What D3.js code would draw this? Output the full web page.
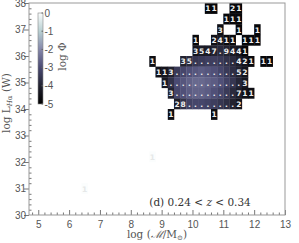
<!DOCTYPE html>
<html>
<head>
<meta charset="utf-8">
<script src="https://cdn.jsdelivr.net/npm/d3@7"></script>
<style>
  body { margin: 0; background: #fff; }
  svg { display: block; }
  .tick text { font-family: "Liberation Sans", Arial, sans-serif; font-size: 10px; fill: #555; }
</style>
</head>
<body>
<div class="chart"></div>
<script>
var svgWidth = 299;
var svgHeight = 243;

var margin = { top: 3, right: 14, bottom: 28, left: 29 };
var width = svgWidth - margin.left - margin.right;
var height = svgHeight - margin.top - margin.bottom;

// column 0 of every row string sits at this mass, one char per 0.2 dex bin
var massStart = 8.7;
var massStep = 0.2;
var lumStep = 0.4;

// luminosity bin centres, top row first
var rowLum = [37.8, 37.4, 37.0, 36.6, 36.2, 35.8, 35.4, 35.0, 34.6, 34.2, 33.8, 32.2];

// galaxy counts per cell ("." = too many to print)
var rowCounts = [
  "         11  21",
  "            111",
  "           3  1  1",
  "       1  2411 111",
  "       3547.9441",
  "1    35.......421 11",
  " 113..........52",
  "  1............3",
  "   3..........711",
  "    28........2",
  "   1      1",
  "1"
];

// log Phi of every filled cell, in the same order as the characters above
var rowLogPhi = [
  [-4.8, -4.8, -4.8, -4.8],
  [-4.8, -4.8, -4.8],
  [-4.6, -4.8, -4.8],
  [-4.8, -4.5, -4.3, -4.7, -4.7, -4.8, -4.8, -4.8],
  [-4.4, -4.2, -4.2, -4.0, -3.8, -4.0, -4.3, -4.4, -4.8],
  [-4.6, -4.0, -3.8, -3.5, -3.4, -3.3, -3.3, -3.4, -3.6, -3.8, -4.1, -4.4, -4.7, -4.8, -4.8],
  [-4.5, -4.4, -4.0, -3.4, -3.1, -2.9, -2.8, -2.7, -2.8, -2.9, -3.1, -3.4, -3.7, -4.0, -4.4],
  [-4.3, -3.6, -3.0, -2.8, -2.6, -2.5, -2.5, -2.6, -2.7, -2.9, -3.2, -3.5, -3.9, -4.3],
  [-4.0, -3.1, -2.9, -2.7, -2.6, -2.6, -2.7, -2.9, -3.1, -3.4, -3.8, -4.1, -4.5, -4.6],
  [-4.1, -3.6, -3.2, -3.1, -3.1, -3.2, -3.3, -3.5, -3.7, -4.0, -4.4],
  [-4.6, -4.6],
  [0.0]
];

// a lone low-mass galaxy
var loneMass = [6.5];
var loneLum = [31.0];
var loneCount = ["1"];
var loneLogPhi = [0.0];

var cbTicks = [0, -1, -2, -3, -4, -5];

// flatten rows into cells
var cells = [];
rowCounts.forEach(function(str, r) {
  var n = 0;
  for (var i = 0; i < str.length; i++) {
    if (str[i] === " ") continue;
    cells.push({ mass: massStart + i * massStep, lum: rowLum[r], label: str[i], phi: rowLogPhi[r][n] });
    n++;
  }
});
loneMass.forEach(function(m, i) {
  cells.push({ mass: m, lum: loneLum[i], label: loneCount[i], phi: loneLogPhi[i] });
});

var svg = d3.select(".chart")
  .append("svg")
  .attr("width", svgWidth)
  .attr("height", svgHeight);

var chartGroup = svg.append("g")
  .attr("transform", `translate(${margin.left}, ${margin.top})`);

var xScale = d3.scaleLinear().domain([4.7, 13]).range([0, width]);
var yScale = d3.scaleLinear().domain([30, 38]).range([height, 0]);

var color = d3.scaleLinear()
  .domain([-5, -4, -3, -2, -1, 0])
  .range(["#000000", "#222230", "#4a4a72", "#8587aa", "#b8d0d2", "#fbfdfd"])
  .clamp(true);

// cells
var cellG = chartGroup.append("g");
cellG.selectAll("rect")
  .data(cells)
  .enter()
  .append("rect")
  .attr("x", d => xScale(d.mass - massStep / 2))
  .attr("y", d => yScale(d.lum + lumStep / 2))
  .attr("width", d => xScale(d.mass + massStep / 2) - xScale(d.mass - massStep / 2) + 0.3)
  .attr("height", d => yScale(d.lum - lumStep / 2) - yScale(d.lum + lumStep / 2) + 0.3)
  .attr("fill", d => color(d.phi));

cellG.selectAll("text")
  .data(cells)
  .enter()
  .append("text")
  .attr("x", d => xScale(d.mass))
  .attr("y", d => yScale(d.lum) + 3)
  .attr("text-anchor", "middle")
  .attr("font-family", "DejaVu Sans, sans-serif")
  .attr("font-weight", "bold")
  .attr("font-size", 7.5)
  .attr("fill", d => d.phi > -1 ? "#e6e8e8" : "#eeeeee")
  .text(d => d.label);

// axes, ticks inside
var xMinor = d3.range(4.8, 13.01, 0.2).map(v => +v.toFixed(1));
var yMinor = d3.range(30, 38.01, 0.2).map(v => +v.toFixed(1));

var bottomAxis = d3.axisBottom(xScale)
  .tickValues(xMinor)
  .tickSize(-2.5)
  .tickFormat(d => Number.isInteger(d) && d >= 5 ? d : "");
var leftAxis = d3.axisLeft(yScale)
  .tickValues(yMinor)
  .tickSize(-2.5)
  .tickFormat(d => Number.isInteger(d) ? d : "");

var xAxis = chartGroup.append("g")
  .attr("transform", `translate(0, ${height})`)
  .call(bottomAxis);
var yAxis = chartGroup.append("g")
  .call(leftAxis);

[xAxis, yAxis].forEach(function(ax) {
  ax.select(".domain").remove();
  ax.selectAll(".tick line").attr("stroke", "#777");
  ax.selectAll(".tick").filter(d => Number.isInteger(d)).select("line")
    .attr(ax === xAxis ? "y2" : "x2", -5);
});
xAxis.selectAll(".tick text").attr("dy", "0.95em").attr("y", 3);
yAxis.selectAll(".tick text").attr("x", -3);

// frame
chartGroup.append("rect")
  .attr("width", width)
  .attr("height", height)
  .attr("fill", "none")
  .attr("stroke", "#999")
  .attr("stroke-width", 1);

// colour bar
var cbX = 9, cbW = 5;
var cbScale = d3.scaleLinear().domain([-5, 0]).range([101, 10]);
var defs = svg.append("defs");
var grad = defs.append("linearGradient")
  .attr("id", "cb")
  .attr("x1", 0).attr("y1", 1).attr("x2", 0).attr("y2", 0);
color.domain().forEach(function(v) {
  grad.append("stop").attr("offset", (v + 5) / 5).attr("stop-color", color(v));
});
var cbG = chartGroup.append("g");
cbG.append("rect")
  .attr("x", cbX)
  .attr("y", cbScale(0))
  .attr("width", cbW)
  .attr("height", cbScale(-5) - cbScale(0))
  .attr("fill", "url(#cb)")
  .attr("stroke", "#888")
  .attr("stroke-width", 0.6);
cbG.selectAll(".cbtick")
  .data(cbTicks)
  .enter()
  .append("line")
  .attr("x1", cbX + cbW - 1.5)
  .attr("x2", cbX + cbW)
  .attr("y1", d => cbScale(d))
  .attr("y2", d => cbScale(d))
  .attr("stroke", "#666");
cbG.selectAll(".cblabel")
  .data(cbTicks)
  .enter()
  .append("text")
  .attr("x", cbX + cbW + 1.5)
  .attr("y", d => cbScale(d) + 3.5)
  .attr("font-family", "Liberation Sans, Arial, sans-serif")
  .attr("font-size", 10)
  .attr("fill", "#555")
  .text(d => d);
cbG.append("text")
  .attr("transform", `translate(${cbX + 28}, ${cbScale(-2.5) - 2}) rotate(-90)`)
  .attr("text-anchor", "middle")
  .attr("font-family", "DejaVu Serif, serif")
  .attr("font-size", 10.5)
  .attr("fill", "#555")
  .text("log Φ");

// redshift label
chartGroup.append("text")
  .attr("x", xScale(8.6))
  .attr("y", yScale(30.35))
  .attr("font-family", "DejaVu Serif, serif")
  .attr("font-size", 10.5)
  .attr("fill", "#333")
  .html('(d) 0.24 &lt; <tspan font-style="italic">z</tspan> &lt; 0.34');

// axis titles
svg.append("text")
  .attr("x", margin.left + width / 2)
  .attr("y", 238)
  .attr("text-anchor", "middle")
  .attr("font-family", "DejaVu Serif, serif")
  .attr("font-size", 10.5)
  .attr("fill", "#555")
  .html('log (<tspan font-style="italic">ℳ</tspan>/M<tspan font-size="7" dy="2">⊙</tspan><tspan dy="-2">)</tspan>');

svg.append("text")
  .attr("transform", `translate(10, ${margin.top + height / 2 - 6}) rotate(-90)`)
  .attr("text-anchor", "middle")
  .attr("font-family", "DejaVu Serif, serif")
  .attr("font-size", 10.5)
  .attr("fill", "#555")
  .html('log L<tspan font-size="7" dy="2"><tspan font-style="italic">H</tspan>α</tspan><tspan dy="-2"> (W)</tspan>');
</script>
</body>
</html>
